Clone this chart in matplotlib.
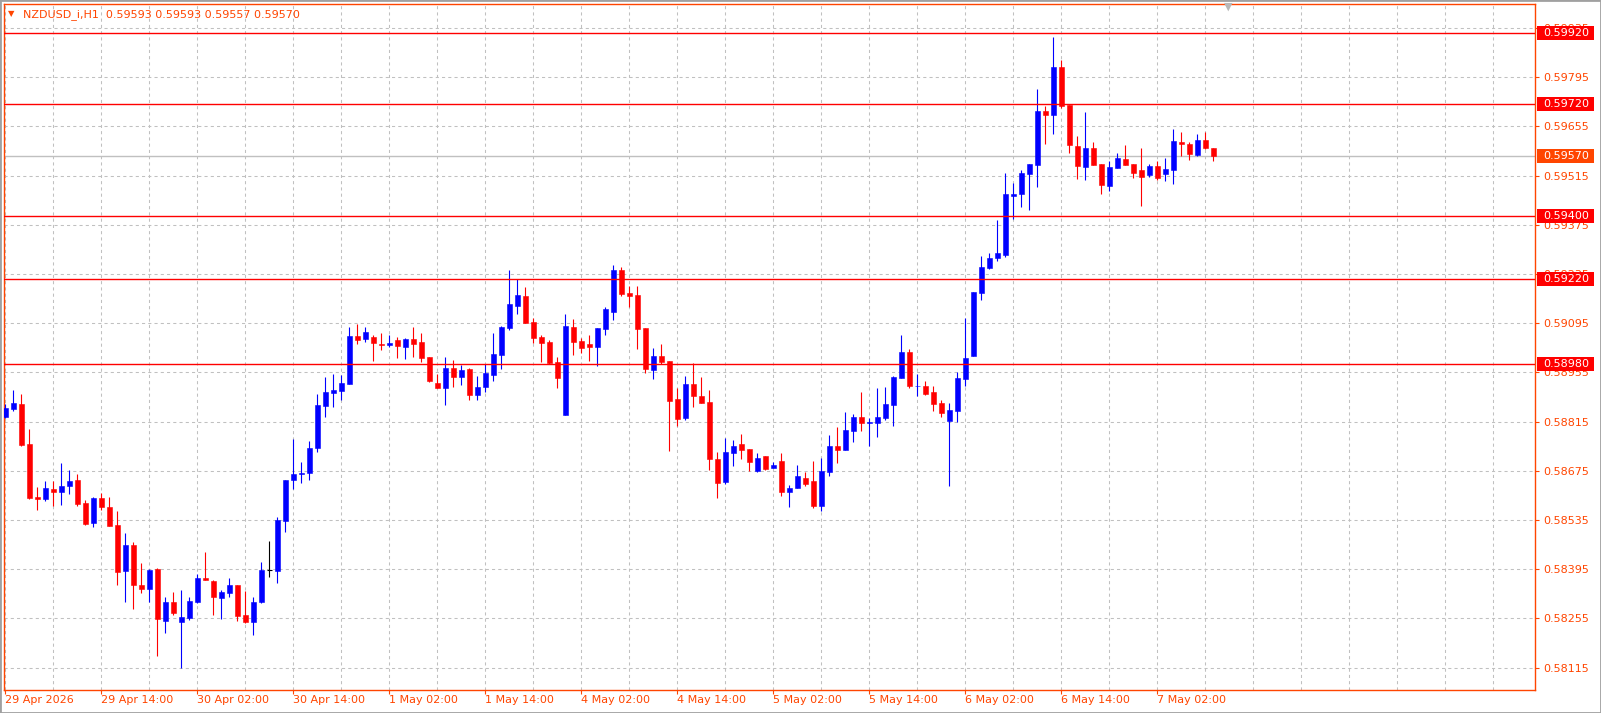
import matplotlib
matplotlib.use("Agg")
import matplotlib.pyplot as plt
import matplotlib.transforms as mtransforms
from matplotlib.patches import Rectangle
from matplotlib.ticker import MultipleLocator
import numpy as np

symbol = "NZDUSD_i,H1"

# hourly bars, 29 Apr 02:00 .. 7 May 09:00
opens = [0.58828, 0.58851, 0.58865, 0.58752, 0.58601, 0.58594, 0.58624, 0.58614, 0.58632, 0.58649,
         0.58584, 0.58528, 0.58599, 0.58571, 0.58522, 0.58389, 0.58465, 0.58351, 0.58338, 0.58396,
         0.58247, 0.58303, 0.58245, 0.58255, 0.58301, 0.58371, 0.58363, 0.58313, 0.58327, 0.58349,
         0.58264, 0.58245, 0.58301, 0.58393, 0.58389, 0.58531, 0.58648, 0.58665, 0.58668, 0.58740,
         0.58860, 0.58897, 0.58903, 0.58923, 0.59059, 0.59050, 0.59056, 0.59035, 0.59033, 0.59047,
         0.59027, 0.59050, 0.59042, 0.58999, 0.58925, 0.58911, 0.58967, 0.58943, 0.58965, 0.58891,
         0.58914, 0.58947, 0.59005, 0.59082, 0.59145, 0.59173, 0.59099, 0.59056, 0.59042, 0.58985,
         0.58834, 0.59085, 0.59045, 0.59036, 0.59027, 0.59079, 0.59127, 0.59245, 0.59182, 0.59176,
         0.59082, 0.58962, 0.59002, 0.58987, 0.58880, 0.58826, 0.58922, 0.58888, 0.58871, 0.58710,
         0.58643, 0.58726, 0.58750, 0.58736, 0.58674, 0.58716, 0.58682, 0.58702, 0.58614, 0.58625,
         0.58656, 0.58646, 0.58576, 0.58673, 0.58746, 0.58735, 0.58789, 0.58828, 0.58812, 0.58812,
         0.58826, 0.58861, 0.58940, 0.59013, 0.58915, 0.58917, 0.58899, 0.58868, 0.58818, 0.58844,
         0.58937, 0.59003, 0.59182, 0.59252, 0.59281, 0.59289, 0.59458, 0.59463, 0.59520, 0.59545,
         0.59698, 0.59687, 0.59825, 0.59715, 0.59598, 0.59540, 0.59593, 0.59547, 0.59486, 0.59537,
         0.59561, 0.59548, 0.59531, 0.59517, 0.59542, 0.59520, 0.59531, 0.59610, 0.59604, 0.59574,
         0.59615, 0.59593]
highs = [0.58865, 0.58905, 0.58894, 0.58794, 0.58630, 0.58647, 0.58647, 0.58698, 0.58678, 0.58667,
         0.58593, 0.58601, 0.58613, 0.58601, 0.58561, 0.58499, 0.58473, 0.58414, 0.58395, 0.58398,
         0.58315, 0.58329, 0.58337, 0.58317, 0.58383, 0.58445, 0.58364, 0.58335, 0.58371, 0.58351,
         0.58332, 0.58315, 0.58417, 0.58476, 0.58543, 0.58649, 0.58766, 0.58700, 0.58760, 0.58895,
         0.58943, 0.58950, 0.58947, 0.59084, 0.59093, 0.59084, 0.59062, 0.59067, 0.59062, 0.59055,
         0.59053, 0.59084, 0.59067, 0.58999, 0.58950, 0.58999, 0.58990, 0.58976, 0.58967, 0.58945,
         0.58979, 0.59067, 0.59087, 0.59247, 0.59221, 0.59199, 0.59110, 0.59062, 0.59047, 0.58999,
         0.59122, 0.59107, 0.59053, 0.59062, 0.59082, 0.59142, 0.59262, 0.59256, 0.59202, 0.59202,
         0.59082, 0.59025, 0.59036, 0.58987, 0.58911, 0.58945, 0.58982, 0.58942, 0.58905, 0.58728,
         0.58768, 0.58762, 0.58779, 0.58736, 0.58727, 0.58716, 0.58699, 0.58725, 0.58634, 0.58693,
         0.58673, 0.58703, 0.58712, 0.58777, 0.58800, 0.58843, 0.58837, 0.58899, 0.58826, 0.58911,
         0.58914, 0.58945, 0.59062, 0.59022, 0.58951, 0.58931, 0.58917, 0.58877, 0.58868, 0.58956,
         0.59110, 0.59184, 0.59286, 0.59295, 0.59390, 0.59523, 0.59494, 0.59530, 0.59547, 0.59760,
         0.59712, 0.59908, 0.59845, 0.59715, 0.59629, 0.59695, 0.59610, 0.59547, 0.59556, 0.59578,
         0.59601, 0.59548, 0.59593, 0.59548, 0.59557, 0.59565, 0.59647, 0.59638, 0.59610, 0.59632,
         0.59638, 0.59593]
lows = [0.58826, 0.58845, 0.58746, 0.58596, 0.58564, 0.58590, 0.58576, 0.58579, 0.58610, 0.58574,
        0.58520, 0.58514, 0.58564, 0.58517, 0.58349, 0.58301, 0.58281, 0.58328, 0.58301, 0.58148,
        0.58213, 0.58264, 0.58113, 0.58250, 0.58299, 0.58364, 0.58264, 0.58253, 0.58315, 0.58247,
        0.58242, 0.58208, 0.58298, 0.58374, 0.58355, 0.58500, 0.58622, 0.58640, 0.58650, 0.58730,
        0.58828, 0.58857, 0.58876, 0.58923, 0.59036, 0.59042, 0.58987, 0.59019, 0.59027, 0.58996,
        0.58993, 0.58999, 0.58985, 0.58927, 0.58911, 0.58862, 0.58914, 0.58920, 0.58877, 0.58877,
        0.58900, 0.58931, 0.58966, 0.59076, 0.59122, 0.59096, 0.59039, 0.58985, 0.58979, 0.58911,
        0.58834, 0.59005, 0.59010, 0.58987, 0.58973, 0.59062, 0.59105, 0.59173, 0.59142, 0.59022,
        0.58953, 0.58936, 0.58979, 0.58731, 0.58803, 0.58820, 0.58857, 0.58868, 0.58677, 0.58597,
        0.58637, 0.58688, 0.58708, 0.58674, 0.58671, 0.58677, 0.58682, 0.58603, 0.58571, 0.58625,
        0.58631, 0.58568, 0.58562, 0.58661, 0.58698, 0.58733, 0.58758, 0.58789, 0.58747, 0.58772,
        0.58821, 0.58804, 0.58940, 0.58912, 0.58889, 0.58891, 0.58846, 0.58829, 0.58632, 0.58815,
        0.58917, 0.59003, 0.59162, 0.59250, 0.59272, 0.59283, 0.59392, 0.59426, 0.59418, 0.59483,
        0.59605, 0.59633, 0.59706, 0.59579, 0.59506, 0.59503, 0.59545, 0.59463, 0.59471, 0.59537,
        0.59545, 0.59508, 0.59429, 0.59511, 0.59503, 0.59500, 0.59491, 0.59571, 0.59560, 0.59571,
        0.59590, 0.59557]
closes = [0.58854, 0.58868, 0.58749, 0.58599, 0.58594, 0.58627, 0.58614, 0.58632, 0.58647, 0.58582,
          0.58525, 0.58598, 0.58571, 0.58517, 0.58386, 0.58465, 0.58350, 0.58338, 0.58394, 0.58253,
          0.58303, 0.58270, 0.58258, 0.58306, 0.58371, 0.58364, 0.58315, 0.58329, 0.58349, 0.58261,
          0.58245, 0.58303, 0.58394, 0.58393, 0.58536, 0.58649, 0.58666, 0.58670, 0.58740, 0.58862,
          0.58900, 0.58905, 0.58925, 0.59059, 0.59047, 0.59070, 0.59039, 0.59033, 0.59038, 0.59030,
          0.59050, 0.59036, 0.58996, 0.58930, 0.58911, 0.58967, 0.58943, 0.58962, 0.58891, 0.58913,
          0.58953, 0.59007, 0.59085, 0.59150, 0.59176, 0.59096, 0.59053, 0.59039, 0.58982, 0.58940,
          0.59087, 0.59042, 0.59025, 0.59027, 0.59082, 0.59136, 0.59245, 0.59179, 0.59173, 0.59079,
          0.58965, 0.59002, 0.58985, 0.58874, 0.58823, 0.58922, 0.58888, 0.58868, 0.58708, 0.58640,
          0.58730, 0.58747, 0.58734, 0.58700, 0.58713, 0.58680, 0.58693, 0.58614, 0.58627, 0.58659,
          0.58637, 0.58576, 0.58675, 0.58746, 0.58733, 0.58791, 0.58828, 0.58812, 0.58814, 0.58828,
          0.58865, 0.58942, 0.59013, 0.58915, 0.58917, 0.58895, 0.58866, 0.58841, 0.58848, 0.58939,
          0.58996, 0.59184, 0.59255, 0.59281, 0.59295, 0.59463, 0.59463, 0.59522, 0.59547, 0.59700,
          0.59687, 0.59825, 0.59712, 0.59602, 0.59542, 0.59593, 0.59545, 0.59489, 0.59539, 0.59564,
          0.59545, 0.59523, 0.59511, 0.59542, 0.59508, 0.59534, 0.59612, 0.59604, 0.59577, 0.59615,
          0.59593, 0.59570]

date_labels = ["29 Apr 2026", "29 Apr 14:00", "30 Apr 02:00", "30 Apr 14:00", "1 May 02:00",
               "1 May 14:00", "4 May 02:00", "4 May 14:00", "5 May 02:00", "5 May 14:00",
               "6 May 02:00", "6 May 14:00", "7 May 02:00"]
price_ticks = [0.58115, 0.58255, 0.58395, 0.58535, 0.58675, 0.58815, 0.58955,
               0.59095, 0.59235, 0.59375, 0.59515, 0.59655, 0.59795, 0.59935]
levels = [0.59920, 0.59720, 0.59400, 0.59220, 0.58980]
bid = 0.59570

bull = "#0000FF"
bear = "#FF0000"
axis_col = "#FF4500"
grid_col = "#C0C0C0"

fig = plt.figure(figsize=(16.01, 7.13), dpi=100)
W, H = 1601, 713
ax = fig.add_axes([4.3 / W, 1 - 689.5 / H, (1535 - 4.3) / W, (689.5 - 4.4) / H])

o = np.array(opens)
h = np.array(highs)
l = np.array(lows)
c = np.array(closes)
x = np.arange(len(o))
cols = np.where(c > o, bull, np.where(c < o, bear, "black"))

# wicks and bodies
ax.vlines(x, l, h, colors=cols, linewidth=0.8, zorder=3)
body = c != o
ax.bar(x[body], np.abs(c - o)[body], bottom=np.minimum(o, c)[body], width=0.6,
       color=cols[body], edgecolor=cols[body], linewidth=0.4, zorder=4)
ax.hlines(o[~body], x[~body] - 0.3, x[~body] + 0.3, colors=cols[~body], linewidth=0.8, zorder=4)

ax.set_xlim(-0.125, 191.2)
ax.set_ylim(0.58053, 0.60002)

# axes look
ax.yaxis.tick_right()
ax.set_yticks(price_ticks)
ax.set_yticklabels([f"{p:.5f}" for p in price_ticks])
ax.set_xticks(range(0, len(o), 12))
ax.set_xticklabels(date_labels, ha="left")
ax.xaxis.set_minor_locator(MultipleLocator(6))
ax.tick_params(axis="x", which="minor", length=0)
ax.tick_params(axis="both", which="major", colors=axis_col, length=3, width=0.8, labelsize=8)
ax.tick_params(axis="y", pad=3)
ax.tick_params(axis="x", pad=1)
ax.grid(True, which="both", color=grid_col, linestyle=(0, (3, 3)), linewidth=0.75)
ax.set_axisbelow(True)
for s in ax.spines.values():
    s.set_color(axis_col)
    s.set_linewidth(1)

# bid line and level lines with price boxes
trans = mtransforms.blended_transform_factory(ax.transAxes, ax.transData)
ax.axhline(bid, color=grid_col, linewidth=1, zorder=2)
box_h = 14 / 35143


def price_box(p, col):
    ax.add_patch(Rectangle((1.0013, p - box_h / 2), 0.037, box_h, transform=trans,
                           facecolor=col, edgecolor="none", clip_on=False, zorder=6))
    ax.text(1.0052, p, f"{p:.5f}", transform=trans, color="white", fontsize=8,
            ha="left", va="center", clip_on=False, zorder=7)


for lv in levels:
    ax.axhline(lv, color=bear, linewidth=1, zorder=5)
    price_box(lv, bear)
price_box(bid, axis_col)

# title
title = f"{symbol}  {opens[-1]:.5f} {highs[-1]:.5f} {lows[-1]:.5f} {closes[-1]:.5f}"
ax.text(0.0044, 0.986, "\u25bc", transform=ax.transAxes, color=axis_col, fontsize=6,
        ha="center", va="center")
ax.text(0.0122, 0.985, title, transform=ax.transAxes, color=axis_col, fontsize=8,
        ha="left", va="center")

# chart shift marker and window frame
fig.text(1228 / W, 1 - 7 / H, "\u25bc", color="#B8B8B8", fontsize=8, ha="center", va="center")
fig.patches.append(Rectangle((0, 0), 1, 1, transform=fig.transFigure, fill=False,
                             edgecolor="#A0A0A0", linewidth=2))

fig.savefig("out.png", dpi=100)
